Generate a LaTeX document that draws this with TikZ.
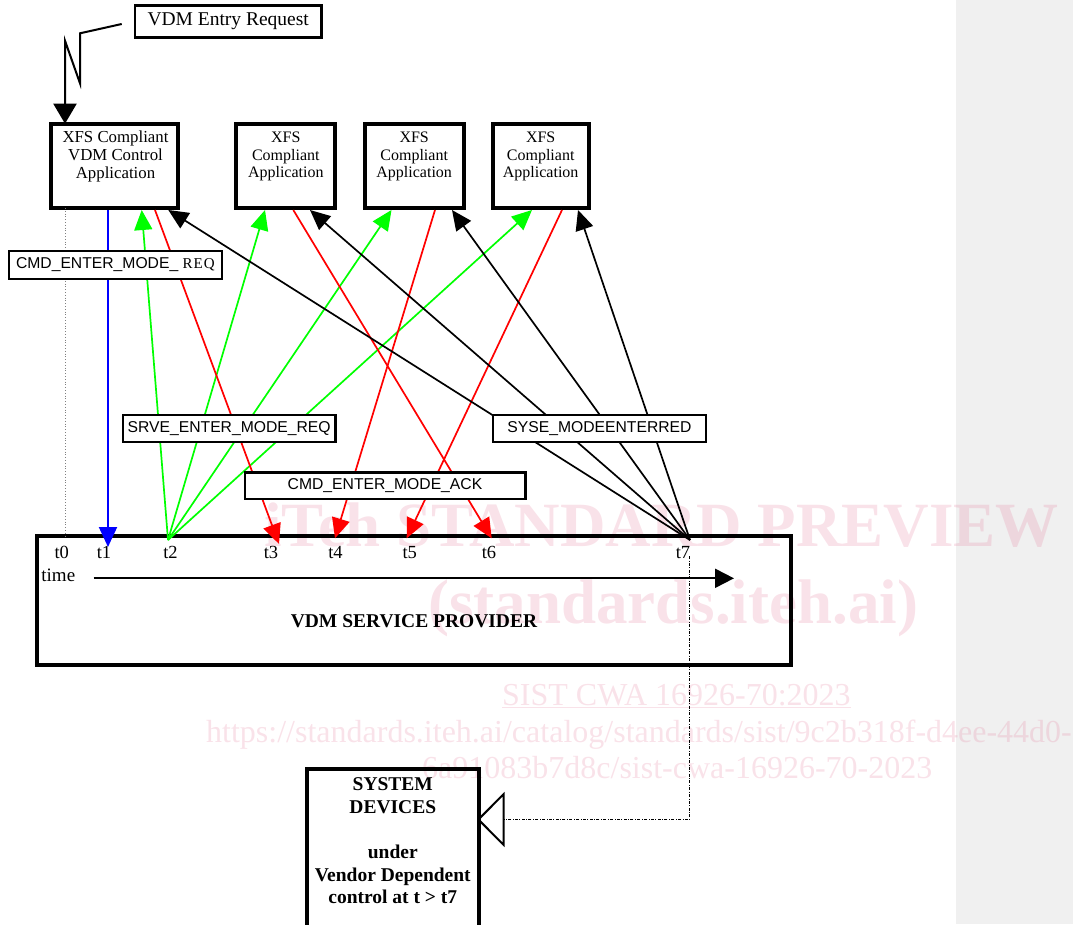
\documentclass[tikz,border=0pt]{standalone}
\usepackage{fontspec}
\setmainfont{Liberation Serif}
\newfontfamily\arialfont{Liberation Sans}
\usetikzlibrary{arrows.meta}
\definecolor{xgreen}{RGB}{0,255,0}
\definecolor{xred}{RGB}{255,0,0}
\definecolor{xblue}{RGB}{0,0,255}
\definecolor{panelgray}{RGB}{240,240,240}
\definecolor{wmpink}{RGB}{225,110,145}
\begin{document}
\begin{tikzpicture}[x=1pt,y=-1pt,
  appbox/.style={draw, line width=4pt, inner sep=0pt, outer sep=0pt},
  apptext/.style={align=center, inner sep=0pt, anchor=north, font=\fontsize{16}{17.7}\selectfont},
  lblbox/.style={draw, line width=2.4pt, fill=white, inner sep=0pt, outer sep=0pt, text height=11.3pt, text depth=3.8pt, font=\arialfont\fontsize{15.7}{18}\selectfont},
  tlbl/.style={inner sep=0pt, anchor=base, font=\fontsize{18.5}{20}\selectfont},
  bigtip/.style={-{Triangle[length=20pt,width=18pt]}},
  gline/.style={draw=xgreen, line width=1.7pt, bigtip},
  rline/.style={draw=xred, line width=1.7pt, bigtip},
  kline/.style={draw=black, line width=1.7pt, bigtip},
  bline/.style={draw=xblue, line width=2pt, bigtip},
  wmtext/.style={text=wmpink, text opacity=0.2, inner sep=0pt, anchor=base west},
  dashdotline/.style={line width=0.9pt, dash pattern=on 3pt off 1.5pt on 0.8pt off 1.5pt},
]
\useasboundingbox (0,0) rectangle (1073,924);
\fill[panelgray] (955.5,0) rectangle (1073,924);

% watermark
\node[wmtext, font=\bfseries\fontsize{63}{63}\selectfont] (wm1) at (264,546) {iTeh STANDARD PREVIEW};
\node[wmtext, font=\bfseries\fontsize{63}{63}\selectfont] (wm2) at (428,623) {(standards.iteh.ai)};
\node[wmtext, font=\fontsize{32}{34}\selectfont] (wm3) at (502,705) {\underline{SIST CWA 16926-70:2023}};
\node[wmtext, font=\fontsize{32}{34}\selectfont] (wm4) at (206,742) {https://standards.iteh.ai/catalog/standards/sist/9c2b318f-d4ee-44d0-};
\node[wmtext, font=\fontsize{32}{34}\selectfont] (wm5) at (422,778) {6a91083b7d8c/sist-cwa-16926-70-2023};

% boxes
\node[draw, line width=2.5pt, inner sep=0pt, outer sep=0pt, minimum width=186.3pt, minimum height=32pt, font=\fontsize{19.5}{22}\selectfont] (entry) at (228.2,21.3) {VDM Entry Request};

\node[appbox, minimum width=126.7pt, minimum height=84.3pt] (app1) at (114.65,165.85) {};
\node[apptext, font=\fontsize{16.8}{18.3}\selectfont] (app1t) at (115.5,130.2) {XFS Compliant\\VDM Control\\Application};
\node[appbox, minimum width=99pt, minimum height=84pt] (app2) at (285.8,165.7) {};
\node[apptext] (app2t) at (285.8,131.7) {XFS\\Compliant\\Application};
\node[appbox, minimum width=99pt, minimum height=84pt] (app3) at (414.2,165.7) {};
\node[apptext] (app3t) at (414.2,131.7) {XFS\\Compliant\\Application};
\node[appbox, minimum width=96pt, minimum height=84pt] (app4) at (540.7,165.7) {};
\node[apptext] (app4t) at (540.7,131.7) {XFS\\Compliant\\Application};

\node[appbox, minimum width=754.8pt, minimum height=128.2pt] (sp) at (413.9,600.4) {};
\node[font=\bfseries\fontsize{19.5}{22}\selectfont, inner sep=0pt, anchor=base] (spt) at (414,627.3) {VDM SERVICE PROVIDER};

\node[appbox, minimum width=171.7pt, minimum height=159.3pt] (sys) at (392.85,848.35) {};
\node[inner sep=0pt, anchor=north, align=center, font=\bfseries\fontsize{19.5}{22.6}\selectfont] (syst) at (392.8,777.6) {SYSTEM\\DEVICES\\[22.6pt]under\\Vendor Dependent\\control at t > t7};

% time labels
\node[tlbl] (t0) at (61.8,558.5) {t0};
\node[tlbl] (t1) at (104,558.5) {t1};
\node[tlbl] (t2) at (170.5,558.5) {t2};
\node[tlbl] (t3) at (271,558.5) {t3};
\node[tlbl] (t4) at (335.5,558.5) {t4};
\node[tlbl] (t5) at (409.7,558.5) {t5};
\node[tlbl] (t6) at (489,558.5) {t6};
\node[tlbl] (t7) at (683,558.5) {t7};
\node[inner sep=0pt, anchor=base, font=\fontsize{19}{20}\selectfont] (time) at (58.3,581.7) {time};
\coordinate (ta) at (93.6,578.3);
\coordinate (tb) at (734,578.3);
\draw[line width=2pt, -{Triangle[length=19pt,width=19pt]}] (ta) -- (tb);

% entry connector
\coordinate (ls) at (121.7,24);
\coordinate (lz1) at (80,33.3);
\coordinate (lz2) at (80,83.3);
\coordinate (lz3) at (65,40.7);
\draw[line width=2pt, -{Triangle[length=20pt,width=23pt]}] (ls) -- (lz1) -- (lz2) -- (lz3) -- (lz3 |- app1.north);

% endpoints
\coordinate (p2) at (168,540);
\coordinate (p7) at (690,540);
\coordinate (g1) at (141.7,210);
\coordinate (g2) at (265,210);
\coordinate (g3) at (391.5,210);
\coordinate (g4) at (532,210);
\coordinate (k1) at (168.3,210);
\coordinate (k2) at (310,210);
\coordinate (k3) at (452,210);
\coordinate (k4) at (578,210);
\coordinate (r1) at (155,210);
\coordinate (r2) at (293.3,210);
\coordinate (r3) at (435,210);
\coordinate (r4) at (562,210);
\coordinate (c3) at (279,544);
\coordinate (c4) at (335,538.3);
\coordinate (c5) at (406.7,538.3);
\coordinate (c6) at (491.7,538.3);
\coordinate (b1) at (108,210);
\coordinate (b2) at (108,547);
\coordinate (tz) at (65,0);

% t0 dotted line
\draw[gray, dotted, line width=0.8pt] (app1.south -| tz) -- (sp.north -| tz);
% blue
\draw[bline] (b1) -- (b2);
% green
\draw[gline] (p2) -- (g1);
\draw[gline] (p2) -- (g2);
\draw[gline] (p2) -- (g3);
\draw[gline] (p2) -- (g4);
% red
\draw[rline] (r1) -- (c3);
\draw[rline] (r3) -- (c4);
\draw[rline] (r4) -- (c5);
\draw[rline] (r2) -- (c6);
% black
\draw[kline] (p7) -- (k1);
\draw[kline] (p7) -- (k2);
\draw[kline] (p7) -- (k3);
\draw[kline] (p7) -- (k4);

% dash-dot to system devices
\coordinate (d7) at (689.5,556);
\coordinate (sysin) at (477,819.5);
\draw[dashdotline, -{Triangle[open, length=27.5pt, width=55pt, line width=2pt]}] (d7) |- (sysin);

% labels
\node[lblbox, minimum width=213.3pt, minimum height=27.7pt] (lreq) at (115.35,264.85) {CMD\_ENTER\_MODE\_ {\rmfamily\fontsize{15}{16}\selectfont R\kern1pt E\kern1pt Q}};
\node[lblbox, minimum width=212.7pt, minimum height=26.8pt] (lsrve) at (229.15,428.6) {SRVE\_ENTER\_MODE\_REQ};
\node[lblbox, minimum width=213.4pt, minimum height=27.3pt] (lsyse) at (599.5,428.35) {SYSE\_MODEENTERRED};
\node[lblbox, minimum width=280.6pt, minimum height=26.4pt] (lack) at (385,485.5) {CMD\_ENTER\_MODE\_ACK};
\end{tikzpicture}
\end{document}
